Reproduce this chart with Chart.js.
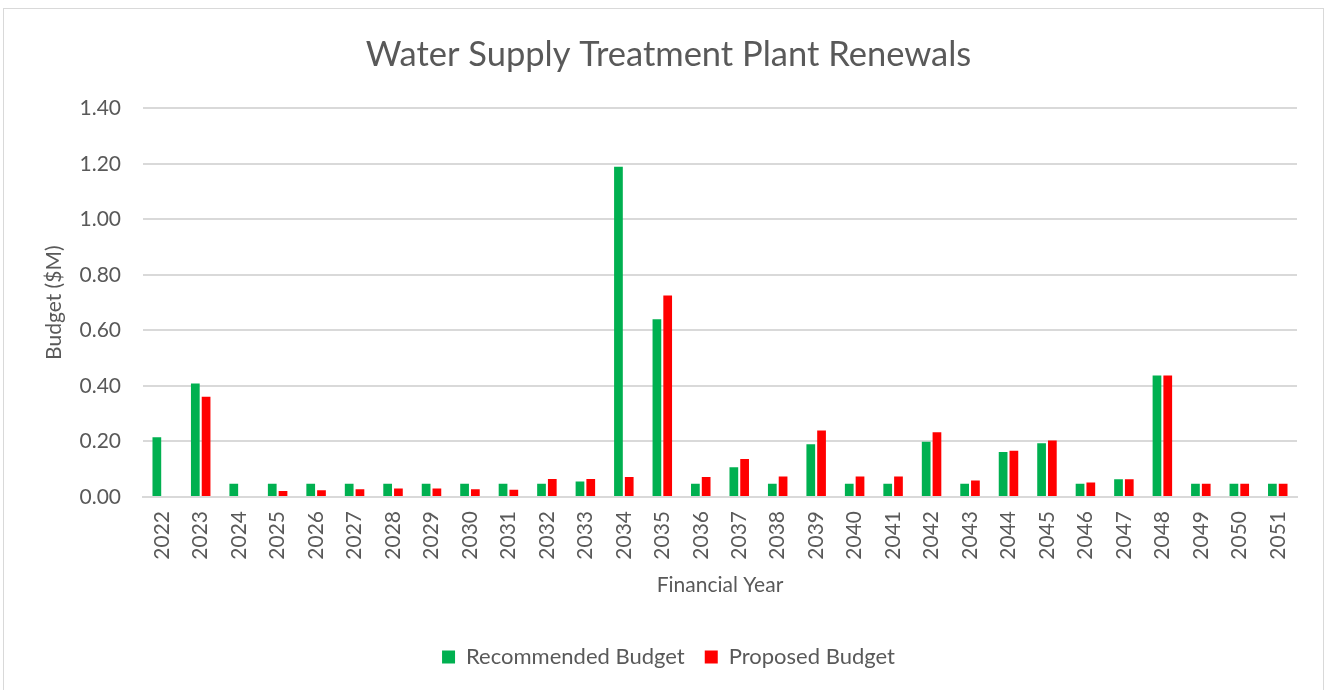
<!DOCTYPE html>
<html>
<head>
<meta charset="utf-8">
<title>Water Supply Treatment Plant Renewals</title>
<script src="https://cdn.jsdelivr.net/npm/chart.js@4.4.0/dist/chart.umd.min.js"></script>
<style>
  html, body { margin: 0; padding: 0; background: #fff; }
  #wrap { position: relative; width: 1330px; height: 690px; }
  #frame {
    position: absolute; left: 3px; top: 8px; width: 1321px; height: 700px;
    border: 1px solid #d9d9d9; box-sizing: border-box;
  }
  canvas { position: absolute; left: 0; top: 0; }
</style>
</head>
<body>
<div id="wrap">
  <div id="frame"></div>
  <canvas id="budget-chart" width="1330" height="690"></canvas>
</div>
<script>
/*---------- Data ----------------*/
const years = [
  "2022", "2023", "2024", "2025", "2026", "2027", "2028", "2029", "2030", "2031",
  "2032", "2033", "2034", "2035", "2036", "2037", "2038", "2039", "2040", "2041",
  "2042", "2043", "2044", "2045", "2046", "2047", "2048", "2049", "2050", "2051",
];

const recommended = [
  0.215, 0.409, 0.048, 0.048, 0.048, 0.048, 0.048, 0.048, 0.048, 0.048,
  0.048, 0.056, 1.19, 0.64, 0.048, 0.107, 0.048, 0.19, 0.048, 0.048,
  0.199, 0.048, 0.162, 0.194, 0.048, 0.064, 0.438, 0.048, 0.048, 0.048,
];

const proposed = [
  0, 0.361, 0, 0.022, 0.024, 0.028, 0.031, 0.031, 0.028, 0.026,
  0.065, 0.065, 0.072, 0.726, 0.072, 0.137, 0.074, 0.24, 0.074, 0.074,
  0.233, 0.059, 0.167, 0.204, 0.052, 0.064, 0.438, 0.048, 0.048, 0.048,
];

const yTicks = [0, 0.2, 0.4, 0.6, 0.8, 1.0, 1.2, 1.4];

/*---------- Styling ----------------*/
const textGrey = "#595959";
const gridGrey = "#d9d9d9";
const fontFamily = "Lato, 'Open Sans', sans-serif";

Chart.defaults.font.family = fontFamily;
Chart.defaults.color = textGrey;

const budgetData = {
  labels: years,
  datasets: [
    {
      label: "Recommended Budget",
      data: recommended,
      backgroundColor: "#00b050",
      categoryPercentage: 0.56,
      barPercentage: 0.81,
    },
    {
      label: "Proposed Budget",
      data: proposed,
      backgroundColor: "#ff0000",
      categoryPercentage: 0.56,
      barPercentage: 0.81,
    },
  ],
};

const budgetOptions = {
  responsive: false,
  animation: false,
  layout: {
    padding: { left: 40, right: 33, top: 0, bottom: 12 },
  },
  plugins: {
    title: {
      display: true,
      text: "Water Supply Treatment Plant Renewals",
      font: { size: 34.5, weight: "normal" },
      color: textGrey,
      padding: { top: 34, bottom: 33 },
    },
    legend: {
      position: "bottom",
      labels: {
        boxWidth: 13,
        boxHeight: 13,
        padding: 20,
        font: { size: 22 },
        color: textGrey,
      },
    },
    tooltip: { enabled: false },
  },
  scales: {
    x: {
      grid: { display: false, drawTicks: false },
      border: { color: gridGrey, width: 2 },
      ticks: {
        minRotation: 90,
        maxRotation: 90,
        padding: 14,
        font: { size: 21 },
        color: textGrey,
        autoSkip: false,
      },
      title: {
        display: true,
        text: "Financial Year",
        font: { size: 21 },
        color: textGrey,
        padding: { top: 0, bottom: 28 },
      },
      afterFit: (scale) => {
        scale.height = 129;
      },
    },
    y: {
      min: 0,
      max: 1.4,
      afterBuildTicks: (scale) => {
        scale.ticks = yTicks.map((v) => ({ value: v }));
      },
      grid: { color: gridGrey, lineWidth: 2, drawTicks: false },
      border: { display: false },
      ticks: {
        padding: 22,
        font: { size: 21 },
        color: textGrey,
        callback: (value) => Number(value).toFixed(2),
      },
      title: {
        display: true,
        text: "Budget ($M)",
        font: { size: 21 },
        color: textGrey,
        padding: { top: 2, bottom: 0 },
      },
      afterFit: (scale) => {
        scale.width = 103;
      },
    },
  },
};

/*-----------Create the grouped bar chart---------------*/
const budgetChart = new Chart(document.getElementById("budget-chart"), {
  type: "bar",
  data: budgetData,
  options: budgetOptions,
});
</script>
</body>
</html>
